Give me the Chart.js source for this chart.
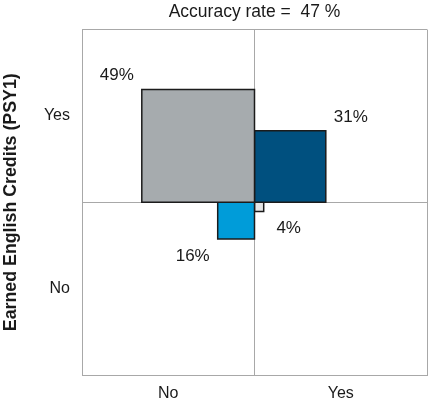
<!DOCTYPE html>
<html>
<head>
<meta charset="utf-8">
<script src="https://cdn.jsdelivr.net/npm/chart.js@4/dist/chart.umd.min.js"></script>
<style>
  html, body { margin: 0; padding: 0; background: #fff; overflow: hidden; }
  #wrap { width: 428px; height: 405px; }
</style>
</head>
<body>
<div id="wrap"><canvas id="c"></canvas></div>
<script>
// ───── Accuracy quadrant chart ───────────────────────────────────────────────
// Square side length = share of students in each predicted/earned cell.

const predicted = ['No', 'Yes', 'No', 'Yes'];
const earned = ['Yes', 'Yes', 'No', 'No'];
const shares = [49, 31, 16, 4];
const fills = ['#a6abae', '#00507f', '#009cd9', '#e4e4e4'];
const axisLabels = ['No', 'Yes'];
const accuracy = 47;

const AXIS_MAX = 75;

function _sign(v) { return v === 'Yes' ? 1 : -1; }

const datasets = shares.map((v, i) => {
  const sx = _sign(predicted[i]);
  const sy = _sign(earned[i]);
  return {
    label: `${predicted[i]}/${earned[i]}`,
    data: [
      { x: 0, y: 0 }, { x: sx * v, y: 0 }, { x: sx * v, y: sy * v },
      { x: 0, y: sy * v }, { x: 0, y: 0 },
    ],
    showLine: true,
    fill: 'shape',
    backgroundColor: fills[i],
    borderColor: '#1b1b1b',
    borderWidth: 1.5,
    pointRadius: 0,
    pointHoverRadius: 0,
    tension: 0,
  };
});

// Percent labels just outside each square's outer corner.
const shareLabels = {
  id: 'shareLabels',
  afterDatasetsDraw(chart) {
    const { ctx, scales: { x, y } } = chart;
    ctx.save();
    ctx.font = '17px "Liberation Sans", Arial, sans-serif';
    ctx.fillStyle = '#1a1a1a';
    ctx.textAlign = 'center';
    ctx.textBaseline = 'middle';
    shares.forEach((v, i) => {
      const sx = _sign(predicted[i]);
      const sy = _sign(earned[i]);
      const px = x.getPixelForValue(sx * v) + sx * 25;
      const py = y.getPixelForValue(sy * v) + (sy > 0 ? -14 : 17);
      ctx.fillText(`${v}%`, px, py);
    });
    ctx.restore();
  },
};

const edgeGrid = (c) => (c.tick && Math.abs(c.tick.value) === AXIS_MAX / 2 ? 'rgba(0,0,0,0)' : '#a8a8a8');
const fixedTicks = (scale) => {
  scale.ticks = [-AXIS_MAX, -AXIS_MAX / 2, 0, AXIS_MAX / 2, AXIS_MAX].map((value) => ({ value }));
};
const tickText = (v) => (v === -AXIS_MAX / 2 ? axisLabels[0] : v === AXIS_MAX / 2 ? axisLabels[1] : '');

Chart.defaults.font.family = '"Liberation Sans", Arial, sans-serif';
Chart.defaults.color = '#1a1a1a';

new Chart(document.getElementById('c'), {
  type: 'scatter',
  data: { datasets },
  plugins: [shareLabels],
  options: {
    responsive: true,
    maintainAspectRatio: false,
    animation: false,
    layout: { autoPadding: false, padding: { left: 0, right: 1, top: 0, bottom: 0 } },
    plugins: {
      legend: { display: false },
      tooltip: { enabled: false },
    },
    scales: {
      x: {
        type: 'linear',
        min: -AXIS_MAX,
        max: AXIS_MAX,
        afterBuildTicks: fixedTicks,
        afterFit(s) { s.height = 30; s.paddingLeft = 0; s.paddingRight = 0; },
        ticks: { callback: tickText, font: { size: 16 }, padding: 9, maxRotation: 0, autoSkip: false },
        grid: { color: edgeGrid, lineWidth: 1, drawTicks: false },
        border: { display: true, color: '#a8a8a8' },
      },
      top: {
        type: 'linear',
        position: 'top',
        axis: 'x',
        min: -AXIS_MAX,
        max: AXIS_MAX,
        afterFit(s) { s.height = 29.5; s.paddingLeft = 0; s.paddingRight = 0; },
        ticks: { display: false },
        grid: { display: false },
        border: { display: false },
        title: {
          display: true,
          text: `Accuracy rate =  ${accuracy} %`,
          font: { size: 17.5 },
          color: '#1a1a1a',
          padding: { top: 2, bottom: 0 },
        },
      },
      y: {
        type: 'linear',
        min: -AXIS_MAX,
        max: AXIS_MAX,
        afterBuildTicks: fixedTicks,
        afterFit(s) { s.width = 82; s.paddingTop = 0; s.paddingBottom = 0; },
        ticks: { callback: tickText, font: { size: 16 }, padding: 12, autoSkip: false },
        grid: { color: edgeGrid, lineWidth: 1, drawTicks: false },
        border: { display: true, color: '#a8a8a8' },
        title: {
          display: true,
          text: 'Earned English Credits (PSY1)',
          font: { size: 17.8, weight: 'bold' },
          color: '#1a1a1a',
          padding: { top: 0, bottom: 8 },
        },
      },
    },
  },
});
</script>
</body>
</html>
